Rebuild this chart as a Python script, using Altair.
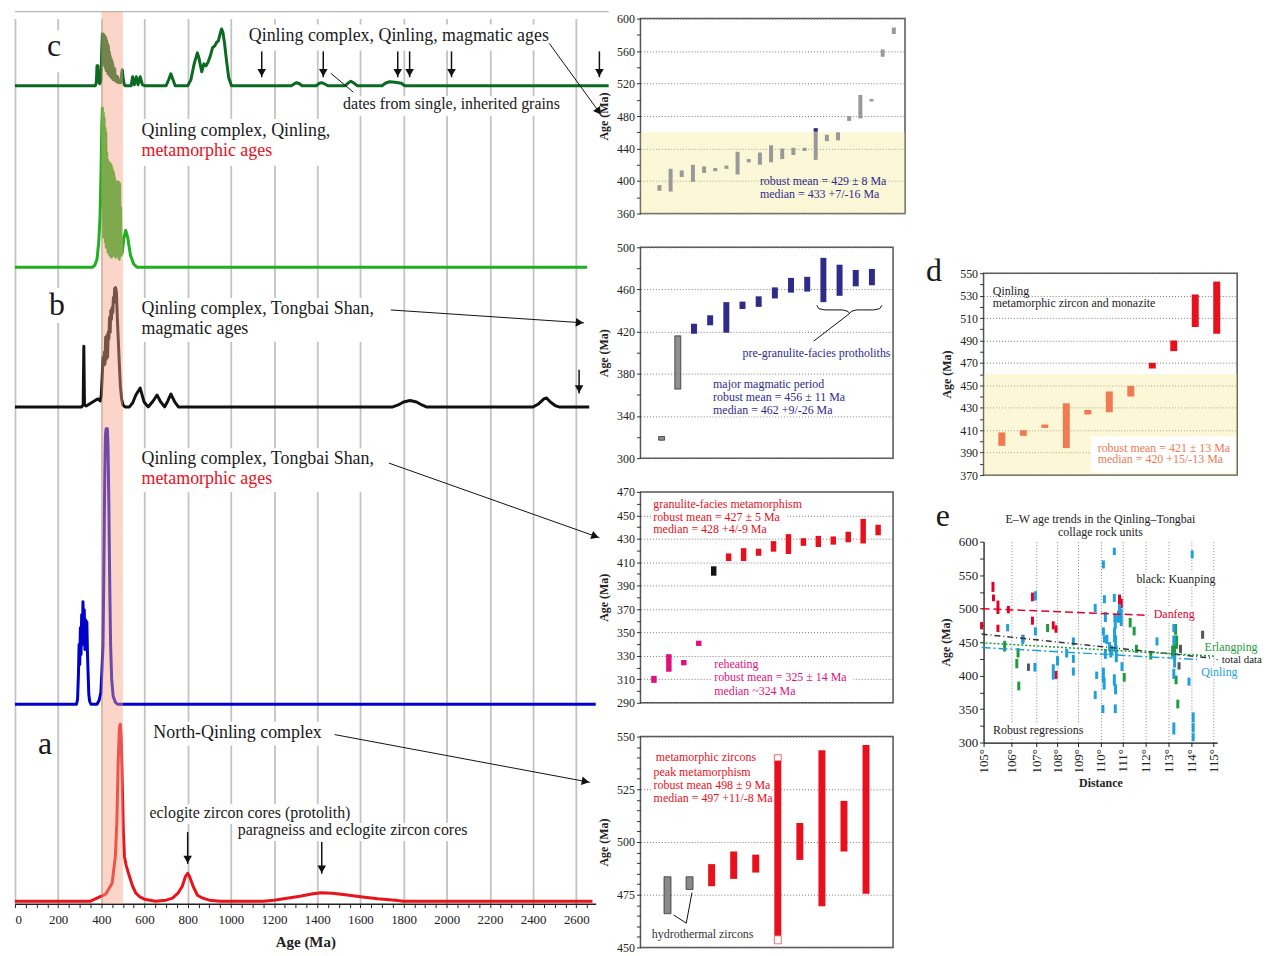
import math
import altair as alt
import pandas as pd

FONT = "Liberation Serif"
BLACK = "#1a1a1a"
RED = "#e8101c"
NAVY = "#2e2b8a"
PINK = "#e0127a"
ORANGE = "#f07a52"
GRAY = "#8f8f8f"

# ====================== LEFT PANEL (probability density curves) ======================
AGE_MAX = 2690
LEFT_W, LEFT_H, Y_MAX = 584, 890, 890
AGE_TICKS = list(range(0, 2651, 50))

# (age Ma, height above the curve's own baseline)
curve_c_mag = [(0, 0), (372, 0), (377, 3), (380, 20), (384, 20), (388, 4), (393, 2), (398, 5), (402, 35), (405, 52),
               (407, 30), (409, 52), (411, 25), (413, 50), (415, 20), (417, 50), (419, 18), (421, 48), (423, 15),
               (425, 45), (427, 15), (429, 42), (431, 12), (433, 40), (435, 12), (437, 34), (439, 10), (441, 30),
               (443, 10), (445, 27), (447, 8), (449, 25), (451, 8), (453, 22), (455, 6), (457, 18), (459, 6),
               (462, 17), (465, 5), (468, 10), (471, 4), (475, 9), (480, 3), (485, 5), (490, 3), (494, 12),
               (497, 16), (501, 8), (506, 1), (512, 0), (538, 0), (545, 9), (553, 1), (562, 9), (570, 1), (580, 9),
               (590, 1), (600, 0), (700, 0), (712, 6), (722, 12), (732, 6), (742, 0), (800, 0), (815, 6), (830, 22),
               (845, 33), (852, 28), (865, 14), (875, 22), (885, 20), (895, 24), (905, 30), (915, 38), (925, 40),
               (935, 44), (942, 45), (950, 52), (957, 57), (963, 54), (970, 44), (980, 25), (990, 8), (1003, 0),
               (1280, 0), (1295, 2), (1305, 3), (1318, 2), (1330, 0), (1395, 0), (1410, 2.5), (1420, 3), (1432, 2),
               (1450, 0), (1530, 0), (1545, 3), (1556, 4.5), (1568, 3), (1585, 0), (1700, 0), (1715, 2.5),
               (1735, 4), (1760, 3.5), (1790, 2.5), (1805, 0), (2750, 0)]
curve_c_meta = [(0, 0), (360, 0), (370, 2), (380, 8), (388, 25), (394, 50), (399, 100), (402, 140), (405, 160),
                (407, 60), (409, 155), (411, 30), (413, 150), (415, 40), (417, 140), (419, 25), (421, 135),
                (423, 20), (425, 115), (427, 30), (429, 108), (431, 15), (433, 104), (435, 25), (437, 105),
                (439, 12), (441, 103), (443, 20), (445, 103), (447, 10), (449, 100), (451, 22), (453, 97),
                (455, 15), (457, 95), (459, 12), (461, 90), (463, 20), (465, 86), (467, 10), (469, 85), (471, 18),
                (473, 85), (475, 12), (477, 86), (479, 20), (481, 85), (483, 8), (485, 84), (487, 15), (489, 60),
                (492, 12), (497, 15), (505, 30), (513, 37), (522, 30), (535, 12), (550, 3), (565, 0), (2650, 0)]
curve_b_mag = [(0, 0), (308, 0), (316, 2), (319, 61), (322, 2), (330, 1), (345, 3), (360, 5), (375, 7), (385, 8),
               (395, 6), (400, 12), (404, 30), (408, 50), (411, 42), (414, 55), (417, 43), (420, 70), (423, 48),
               (426, 72), (429, 50), (432, 75), (435, 68), (438, 90), (441, 75), (444, 97), (447, 88), (450, 100),
               (453, 95), (456, 110), (459, 105), (462, 119), (466, 120), (470, 115), (474, 90), (478, 70),
               (483, 45), (488, 22), (494, 8), (500, 2), (510, 0), (530, 0), (545, 4), (560, 12), (580, 19),
               (598, 5), (617, 0), (640, 6), (658, 12), (675, 5), (693, 0), (708, 6), (722, 13), (740, 5),
               (757, 0), (1750, 0), (1775, 2), (1800, 5), (1830, 6.5), (1860, 5), (1885, 2), (1905, 0),
               (2400, 0), (2425, 3), (2450, 8), (2462, 9), (2480, 5), (2505, 1), (2520, 0), (2660, 0)]
curve_b_meta = [(0, 0), (285, 0), (290, 5), (294, 30), (297, 60), (300, 40), (303, 77), (306, 50), (309, 90),
                (312, 60), (315, 103), (318, 70), (321, 95), (324, 55), (327, 85), (330, 60), (333, 83),
                (336, 50), (339, 30), (342, 10), (346, 3), (352, 0), (380, 0), (390, 4), (398, 12), (403, 35),
                (408, 60), (412, 140), (416, 230), (419, 270), (422, 277), (428, 277), (431, 260), (435, 200),
                (439, 120), (443, 60), (448, 25), (455, 8), (465, 2), (475, 0), (2690, 0)]
curve_a = [(0, 0), (350, 0), (380, 3), (420, 7), (450, 18), (465, 45), (472, 80), (478, 140), (484, 175),
           (488, 178), (492, 165), (497, 120), (502, 70), (507, 45), (515, 36), (530, 25), (545, 15), (560, 8),
           (580, 4), (600, 2), (650, 0), (700, 1), (730, 3), (755, 8), (775, 15), (790, 25), (800, 28),
           (810, 24), (825, 15), (845, 6), (870, 3), (900, 1), (950, 0), (1150, 0), (1200, 1), (1260, 3),
           (1320, 5), (1380, 7.5), (1420, 8.5), (1470, 8), (1530, 6.5), (1600, 4.5), (1680, 2.5), (1760, 1),
           (1800, 0), (2675, 0)]

# stacking offsets of the curves (layout)
CURVES = [
    (curve_c_mag, 822.5, "#0b6a22"),
    (curve_c_meta, 640, "#1fb01f"),
    (curve_b_mag, 499.5, "#111111"),
    (curve_b_meta, 200.5, "#0000cc"),
    (curve_a, 2.5, "#e8141c"),
]

left_texts = [
    ("Qinling complex, Qinling, magmatic ages", 1083, 872, BLACK, 18),
    ("dates from single, inherited grains", 1520, 804, BLACK, 16),
    ("Qinling complex, Qinling,", 586, 777, BLACK, 18),
    ("metamorphic ages", 586, 757, RED, 18),
    ("Qinling complex, Tongbai Shan,", 586, 598, BLACK, 18),
    ("magmatic ages", 586, 578, BLACK, 18),
    ("Qinling complex, Tongbai Shan,", 586, 447, BLACK, 18),
    ("metamorphic ages", 586, 427, RED, 18),
    ("North-Qinling complex", 641, 172, BLACK, 18),
    ("eclogite zircon cores (protolith)", 623, 91, BLACK, 16),
    ("paragneiss and eclogite zircon cores", 1032, 74, BLACK, 16),
]
left_letters = [("c", 181, 862), ("b", 195, 602), ("a", 139, 160)]
left_boxes = [(140, 225, 836, 878), (1070, 2480, 858, 884), (1505, 2520, 792, 812), (575, 1560, 742, 789),
              (150, 240, 584, 619), (575, 1720, 565, 609), (575, 1720, 414, 458), (95, 185, 142, 176),
              (630, 1440, 159, 183), (610, 1560, 80, 100), (1020, 2150, 63, 81)]
# (x1, h1, x2, h2, head, width)
left_arrows = [(a, 857, a, 831, True, 1.5) for a in [1143, 1428, 1773, 1828, 2022, 2707]] + [
    (1463, 835, 1567, 816, False, 1.0),
    (2475, 865, 2716, 793, True, 1.0),
    (1741, 597, 2636, 584, True, 1.0),
    (2613, 537, 2613, 513, True, 1.5),
    (1732, 443, 2707, 368, True, 1.0),
    (1481, 170, 2663, 122, True, 1.0),
    (800, 72, 800, 40, True, 1.5),
    (1421, 62, 1421, 30, True, 1.5),
]


def arrow_frames(arrows, sx, sy, back=4.5):
    lines, heads = [], []
    for x1, y1, x2, y2, head, w in arrows:
        lines.append(dict(x=x1, y=y1, x2=x2, y2=y2, w=w))
        if head:
            pdx, pdy = (x2 - x1) * sx, -(y2 - y1) * sy
            L = math.hypot(pdx, pdy)
            ux, uy = pdx / L, pdy / L
            heads.append(dict(x=x2 - ux * back / sx, y=y2 + uy * back / sy,
                              ang=math.degrees(math.atan2(-pdx, pdy)) % 360))
    return pd.DataFrame(lines), pd.DataFrame(heads)


xs_left = alt.Scale(domain=[0, AGE_MAX], nice=False, zero=False)
ys_left = alt.Scale(domain=[0, Y_MAX], nice=False, zero=False)
ax_left = alt.Axis(values=AGE_TICKS, format="d", labelExpr="datum.value % 200 === 0 ? datum.label : ''",
                   labelOverlap=False, grid=True, gridColor="#c3c3c3", gridWidth=1.8,
                   gridOpacity={"condition": {"test": "datum.value % 200 === 0", "value": 1}, "value": 0},
                   tickSize=4, tickColor="#222", domainColor="#222", domainWidth=1.5,
                   labelFont=FONT, labelFontSize=13, labelColor="#222", labelPadding=6,
                   title="Age (Ma)", titleFont=FONT, titleFontSize=15, titleFontWeight="bold",
                   titleColor="#222", titlePadding=8)


def LX(f="x"):
    return alt.X(f"{f}:Q", scale=xs_left, axis=ax_left)


def LY(f="y"):
    return alt.Y(f"{f}:Q", scale=ys_left, axis=None)


left_layers = []
left_layers.append(alt.Chart(pd.DataFrame([{"x": 0, "x2": 2750, "y": 897}])).mark_rule(
    color="#b5b5b5", strokeWidth=1.5).encode(x=LX(), x2=alt.X2("x2"), y=LY()))
left_layers.append(alt.Chart(pd.DataFrame(left_boxes, columns=["x", "x2", "y", "y2"])).mark_rect(
    color="white").encode(x=LX(), x2=alt.X2("x2"), y=LY(), y2=alt.Y2("y2")))
for pts, off, col in CURVES:
    df = pd.DataFrame({"x": [p[0] for p in pts], "y": [p[1] + off for p in pts], "o": list(range(len(pts)))})
    left_layers.append(alt.Chart(df).mark_line(color=col, strokeWidth=3, strokeJoin="round").encode(
        x=LX(), y=LY(), order="o:Q"))
left_layers.append(alt.Chart(pd.DataFrame([{"x": 400, "x2": 500, "y": 0, "y2": 897}])).mark_rect(
    color="#f4a285", opacity=0.45).encode(x=LX(), x2=alt.X2("x2"), y=LY(), y2=alt.Y2("y2")))
la_lines, la_heads = arrow_frames(left_arrows, LEFT_W / AGE_MAX, LEFT_H / Y_MAX)
left_layers.append(alt.Chart(la_lines).mark_rule(color="#111").encode(
    x=LX(), y=LY(), x2=alt.X2("x2"), y2=alt.Y2("y2"), strokeWidth=alt.StrokeWidth("w:Q", scale=None)))
left_layers.append(alt.Chart(la_heads).mark_point(shape="triangle-down", filled=True, size=75, color="#111",
                                                  opacity=1).encode(
    x=LX(), y=LY(), angle=alt.Angle("ang:Q", scale=None)))
left_layers.append(alt.Chart(pd.DataFrame(left_texts, columns=["t", "x", "y", "c", "s"])).mark_text(
    align="left", baseline="middle", font=FONT).encode(
    x=LX(), y=LY(), text="t:N", color=alt.Color("c:N", scale=None), size=alt.Size("s:Q", scale=None)))
left_layers.append(alt.Chart(pd.DataFrame(left_letters, columns=["t", "x", "y"])).mark_text(
    align="center", baseline="middle", font=FONT, fontSize=32, color=BLACK).encode(x=LX(), y=LY(), text="t:N"))

left = alt.layer(*left_layers).properties(width=LEFT_W, height=LEFT_H)


# ====================== MIDDLE / RIGHT PANELS (age bars) ======================
def y_axis(ydom, step, labstep, size=12, grid=True, domain=False):
    vals = list(range(ydom[0], ydom[1] + 1, step))
    test = f"(datum.value - {ydom[0]}) % {labstep} === 0"
    kw = dict(values=vals, format="d", labelExpr=f"{test} ? datum.label : ''", labelOverlap=False,
              tickSize=4, tickColor="#333", tickWidth=1, domain=domain,
              labelFont=FONT, labelFontSize=size, labelColor="#222", labelPadding=2,
              title="Age (Ma)", titleFont=FONT, titleFontSize=12, titleFontWeight="bold",
              titleColor="#222", titlePadding=6)
    if domain:
        kw.update(domainColor="#111", domainWidth=1.2)
    if grid:
        kw.update(grid=True, gridDash=[1, 2], gridColor="#7a7a7a", gridWidth=1,
                  gridOpacity={"condition": {"test": test, "value": 1}, "value": 0})
    else:
        kw.update(grid=False)
    return alt.Axis(**kw)


def text_boxes(texts, xdom, ydom, width, height, size=12, pad=2.0):
    """white backgrounds sized from the label strings"""
    ppx = width / (xdom[1] - xdom[0])
    ppy = height / (ydom[1] - ydom[0])
    rows = []
    for t, x, y, _c in texts:
        w = len(t) * size * 0.46 + 2 * pad
        rows.append(dict(x=x - pad / ppx, x2=min(x + (w - pad) / ppx, xdom[1]),
                         y=y - size * 0.55 / ppy, y2=y + size * 0.55 / ppy))
    return pd.DataFrame(rows)


def bar_panel(xdom, ydom, step, labstep, width, height, bar_sets, texts, band=None, extra=None,
              framed=True, boxes=True):
    xs = alt.Scale(domain=xdom, nice=False, zero=False)
    ys = alt.Scale(domain=ydom, nice=False, zero=False)
    ax = y_axis(ydom, step, labstep)

    def X(f="x"):
        return alt.X(f"{f}:Q", scale=xs, axis=None)

    def Y(f="y"):
        return alt.Y(f"{f}:Q", scale=ys, axis=ax)

    layers = []
    if band:
        df = pd.DataFrame([{"x": xdom[0], "x2": xdom[1], "y": band[0], "y2": band[1]}])
        layers.append(alt.Chart(df).mark_rect(color="#f8e890", opacity=0.36).encode(
            x=X(), x2=alt.X2("x2"), y=Y(), y2=alt.Y2("y2")))
    if boxes:
        layers.append(alt.Chart(text_boxes(texts, xdom, ydom, width, height)).mark_rect(color="white").encode(
            x=X(), x2=alt.X2("x2"), y=Y(), y2=alt.Y2("y2")))
    if extra:
        layers += extra(X, Y, "pre")
    for bars, col, bw, outline in bar_sets:
        df = pd.DataFrame(bars, columns=["x", "y", "y2"])
        if outline:
            mk = alt.Chart(df).mark_bar(size=bw, fill=col, stroke="#333333", strokeWidth=0.8)
        else:
            mk = alt.Chart(df).mark_rule(color=col, strokeWidth=bw, strokeCap="butt")
        layers.append(mk.encode(x=X(), y=Y(), y2=alt.Y2("y2")))
    if extra:
        layers += extra(X, Y, "post")
    df = pd.DataFrame(texts, columns=["t", "x", "y", "c"])
    layers.append(alt.Chart(df).mark_text(align="left", baseline="middle", font=FONT, fontSize=12).encode(
        x=X(), y=Y(), text="t:N", color=alt.Color("c:N", scale=None)))
    props = dict(width=width, height=height)
    if framed:
        props["view"] = alt.ViewBackground(stroke="#555555", strokeWidth=1.5)
    return layers, props


MID_W1, MID_W = 266, 254

# --- panel 1: Qinling magmatic
p1_gray = [(1, 388, 395), (2, 387, 415), (3, 405, 413), (4, 399, 420), (5, 410, 418), (6, 412, 416),
           (7, 415, 419), (8, 408, 436), (9, 423, 427), (10, 420, 435), (11, 423, 444), (12, 427, 440),
           (13, 432, 441), (14, 437, 441), (15, 426, 465), (16, 449, 457), (17, 450, 460), (18, 474, 480),
           (19, 477, 506), (20, 498, 501), (21, 553, 562), (22, 581, 589)]
p1_navy = [(15, 461, 465)]
p1_texts = [("robust mean = 429 ± 8 Ma", 10.0, 400, NAVY), ("median = 433 +7/-16 Ma", 10.0, 384, NAVY)]

l1, pr1 = bar_panel([-0.7, 23], [360, 600], 20, 40, MID_W1, 196,
                    [(p1_gray, "#999999", 4, False), (p1_navy, NAVY, 4, False)], p1_texts, band=(360, 460),
                    boxes=False)
p1 = alt.layer(*l1).properties(**pr1)

# --- panel 2: Tongbai magmatic
p2_gray = [(1, 317, 320.5), (2, 365.5, 416)]
p2_navy = [(3, 418, 427.5), (4, 426, 435.5), (5, 419, 448), (6, 441.5, 448.5), (7, 443.5, 453.5),
           (8, 451.5, 462), (9, 457, 471), (10, 458, 472), (11, 448, 490), (12, 454, 483.5), (13, 463, 478.5),
           (14, 464, 479.5)]
p2_texts = [("pre-granulite-facies protholiths", 6.0, 399.5, NAVY), ("major magmatic period", 4.18, 370.2, NAVY),
            ("robust mean = 456 ± 11 Ma", 4.18, 358.3, NAVY), ("median = 462 +9/-26 Ma", 4.18, 345.9, NAVY)]
p2_brace = [(10.59, 445), (10.72, 441.8), (11.1, 440.6), (12.2, 440.6), (12.52, 439.2), (12.62, 437.2),
            (12.72, 439.2), (13.04, 440.6), (14.1, 440.6), (14.48, 441.8), (14.62, 445)]
p2_leader = [(12.62, 437.2, 10.4, 411)]


def p2_extra(X, Y, when):
    if when != "post":
        return []
    bdf = pd.DataFrame({"x": [p[0] for p in p2_brace], "y": [p[1] for p in p2_brace],
                        "o": list(range(len(p2_brace)))})
    return [alt.Chart(bdf).mark_line(color="#111", strokeWidth=1).encode(x=X(), y=Y(), order="o:Q"),
            alt.Chart(pd.DataFrame(p2_leader, columns=["x", "y", "x2", "y2"])).mark_rule(
                color="#111", strokeWidth=1).encode(x=X(), y=Y(), x2=alt.X2("x2"), y2=alt.Y2("y2"))]


l2, pr2 = bar_panel([0, 15], [300, 500], 20, 40, MID_W, 212,
                    [(p2_gray, GRAY, 6, True), (p2_navy, NAVY, 6, False)], p2_texts, extra=p2_extra)
p2 = alt.layer(*l2).properties(**pr2)

# --- panel 3: Tongbai metamorphic
p3_pink = [(1, 307, 313), (2, 316.5, 331.5), (3, 322, 326.5), (4, 338.5, 343)]
p3_black = [(5, 398.5, 406.5)]
p3_red = [(6, 411, 417.5), (7, 411, 422), (8, 415.5, 421.5), (9, 419, 428), (10, 417, 434), (11, 424, 430.5),
          (12, 423, 432.5), (13, 425, 432), (14, 427, 436), (15, 426, 447), (16, 433, 442)]
p3_texts = [("granulite-facies metamorphism", 0.96, 460.1, RED), ("robust mean = 427 ± 5 Ma", 0.96, 448.8, RED),
            ("median = 428 +4/-9 Ma", 0.96, 438.3, RED), ("reheating", 5.03, 323, PINK),
            ("robust mean = 325 ± 14 Ma", 5.03, 312.3, PINK), ("median ~324 Ma", 5.03, 300.4, PINK)]
l3, pr3 = bar_panel([0.1, 17], [290, 470], 10, 20, MID_W, 212,
                    [(p3_pink, PINK, 5.5, False), (p3_black, "#111", 5.5, False), (p3_red, RED, 5.5, False)],
                    p3_texts)
p3 = alt.layer(*l3).properties(**pr3)

# --- panel 4: North-Qinling
p4_gray = [(1, 466, 483.5), (2, 477.5, 483.5)]
p4_red = [(3, 479, 489.5), (4, 482.5, 495.5), (5, 485.5, 494), (6, 455.5, 538.5), (7, 491.5, 509),
          (8, 469.5, 543.5), (9, 495.5, 519.5), (10, 475.5, 546)]
p4_breaks = [(6, 538.5, 541.4), (6, 451.7, 455.5)]
p4_texts = [("metamorphic zircons", 0.47, 540.5, RED), ("peak metamorphism", 0.37, 533.3, RED),
            ("robust mean 498 ± 9 Ma", 0.37, 527.2, RED), ("median = 497 +11/-8 Ma", 0.37, 520.9, RED),
            ("hydrothermal zircons", 0.29, 456.5, "#333")]
p4_vline = [(1.28, 465.4), (1.85, 461.5), (2.11, 476.0)]


def p4_extra(X, Y, when):
    if when != "post":
        return []
    df = pd.DataFrame({"x": [p[0] for p in p4_vline], "y": [p[1] for p in p4_vline], "o": [0, 1, 2]})
    bdf = pd.DataFrame(p4_breaks, columns=["x", "y", "y2"])
    return [alt.Chart(df).mark_line(color="#111", strokeWidth=1).encode(x=X(), y=Y(), order="o:Q"),
            alt.Chart(bdf).mark_bar(size=7, fill="white", stroke=RED, strokeWidth=0.6).encode(
                x=X(), y=Y(), y2=alt.Y2("y2"))]


l4, pr4 = bar_panel([0, 11], [450, 550], 5, 25, MID_W, 212,
                    [(p4_gray, "#8a8a8a", 7, True), (p4_red, RED, 7, False)], p4_texts, extra=p4_extra)
p4 = alt.layer(*l4).properties(**pr4)

# --- panel d
d_orange = [(1, 396, 408), (2, 405, 410), (3, 412, 415), (4, 394, 434), (5, 424, 428), (6, 426, 444.5),
            (7, 440, 449.5)]
d_red = [(8, 465, 470), (9, 480.5, 490), (10, 502, 531), (11, 496, 542.5)]
d_texts = [("Qinling", 0.58, 534.4, "#222"), ("metamorphic zircon and monazite", 0.58, 523.2, "#222"),
           ("robust mean = 421 ± 13 Ma", 5.46, 394.2, ORANGE), ("median = 420 +15/-13 Ma", 5.46, 383.9, ORANGE)]
d_box = [(5.15, 11.88, 372, 404.6)]


def d_extra(X, Y, when):
    if when != "pre":
        return []
    return [alt.Chart(pd.DataFrame(d_box, columns=["x", "x2", "y", "y2"])).mark_rect(color="white").encode(
        x=X(), x2=alt.X2("x2"), y=Y(), y2=alt.Y2("y2"))]


ld, prd = bar_panel([0.15, 11.95], [370, 550], 10, 20, 255, 203,
                    [(d_orange, ORANGE, 7, False), (d_red, RED, 7, False)], d_texts, band=(370, 460),
                    extra=d_extra, boxes=False)
ld.append(alt.Chart(pd.DataFrame({"t": ["d"]})).mark_text(align="left", baseline="middle", font=FONT,
                                                          fontSize=32, color=BLACK).encode(
    x=alt.value(-58), y=alt.value(-2), text="t:N"))
# tiny white mark that sets where this column starts (layout)
ld.append(alt.Chart(pd.DataFrame({"v": [0]})).mark_rule(color="white", strokeWidth=1).encode(
    x=alt.value(-90), x2=alt.value(-89), y=alt.value(208)))
pd_chart = alt.layer(*ld).properties(**prd)

# --- panel e: E-W trends
E_W, E_H = 235, 202
E_DOM = [0, 942]
E_TICK_KM = [0, 112, 213, 297, 382, 472, 560, 652, 746, 837, 925]
E_TICK_LAB = ["105°", "106°", "107°", "108°", "109°", "110°", "111°", "112°", "113°", "114°", "115°"]
e_red = [(-8, 469, 480), (38, 525, 540), (40, 511, 521), (58, 492, 512), (58, 465, 476), (100, 493, 504),
         (197, 511, 524), (197, 476, 488), (281, 469, 481), (292, 464, 475), (292, 395, 407), (513, 431, 441),
         (548, 500, 521), (555, 501, 515)]
e_green = [(85, 436, 452), (139, 427, 441), (134, 411, 425), (142, 378, 391), (258, 465, 477), (530, 480, 492),
           (591, 472, 486), (607, 460, 473), (616, 434, 446), (567, 391, 404), (674, 424, 435), (774, 461, 477),
           (778, 440, 460), (770, 425, 446), (776, 387, 400), (783, 351, 364), (762, 428, 445)]
e_gray = [(159, 450, 461), (181, 407, 418), (883, 455, 467), (794, 434, 446), (788, 409, 420)]
e_blue = [(97, 466, 477), (158, 447, 460), (209, 512, 526), (209, 460, 472), (207, 406, 419), (281, 394, 417),
          (298, 415, 429), (335, 427, 440), (362, 445, 457), (362, 419, 431), (362, 400, 412), (450, 495, 507),
          (450, 365, 377), (456, 395, 406), (483, 560, 572), (487, 508, 520), (483, 460, 472), (487, 449, 460),
          (483, 390, 412), (486, 379, 397), (481, 344, 356), (491, 480, 495), (497, 447, 461), (491, 425, 440),
          (508, 437, 450), (513, 427, 436), (527, 580, 591), (527, 510, 522), (531, 470, 490), (528, 450, 472),
          (532, 435, 460), (535, 420, 445), (527, 385, 402), (532, 372, 387), (531, 344, 357), (544, 479, 497),
          (548, 490, 507), (555, 474, 500), (558, 407, 420), (517, 432, 445), (699, 445, 457), (767, 465, 477),
          (767, 445, 460), (770, 412, 435), (767, 395, 410), (767, 312, 330), (828, 385, 397), (841, 575, 587),
          (845, 330, 345), (845, 315, 329), (845, 302, 314)]
E_RED, E_GREEN, E_BLUE, E_GRAY = "#e4002b", "#1e9b3c", "#1fa0de", "#555555"
e_regressions = [(-8, 500, 666, 490, E_RED, [8, 4]), (-8, 462, 922, 426, "#333333", [6, 3, 1, 3]),
                 (-8, 449, 931, 429, E_GREEN, [2, 2]), (-8, 442, 861, 424, E_BLUE, [9, 3, 2, 3])]
e_texts = [("Danfeng", 686, 492, E_RED), ("Erlangping", 891, 443, E_GREEN),
           ("Qinling", 877, 405, E_BLUE), ("black: Kuanping", 616, 544, "#222"),
           ("Robust regressions", 38, 319, "#222")]
e_texts_free = [("· total data", 934, 424, "#222")]
e_title = ["E–W age trends in the Qinling–Tongbai", "collage rock units"]

xs_e = alt.Scale(domain=E_DOM, nice=False, zero=False)
ys_e = alt.Scale(domain=[300, 600], nice=False, zero=False)
lab_arr = "[" + ",".join(f"'{s}'" for s in E_TICK_LAB) + "]"
km_arr = "[" + ",".join(str(v) for v in E_TICK_KM) + "]"
ax_ex = alt.Axis(values=E_TICK_KM, labelExpr=f"{lab_arr}[indexof({km_arr}, datum.value)]", labelAngle=270,
                 labelOverlap=False, grid=True, gridDash=[1, 2], gridColor="#888888", tickSize=4,
                 tickColor="#222", domainColor="#111", domainWidth=1.2, labelFont=FONT, labelFontSize=13,
                 labelColor="#222", labelPadding=2, title="Distance", titleFont=FONT, titleFontSize=12,
                 titleFontWeight="bold", titleColor="#222", titlePadding=4)
ax_ey = y_axis([300, 600], 25, 50, size=13, grid=False, domain=True)


def EX(f="x"):
    return alt.X(f"{f}:Q", scale=xs_e, axis=ax_ex)


def EY(f="y"):
    return alt.Y(f"{f}:Q", scale=ys_e, axis=ax_ey)


e_layers = []
e_layers.append(alt.Chart(text_boxes(e_texts, [E_DOM[0], 2000], [300, 600], E_W * 2000 / 942, E_H)).mark_rect(
    color="white").encode(x=EX(), x2=alt.X2("x2"), y=EY(), y2=alt.Y2("y2")))
for segs, col in [(e_red, E_RED), (e_gray, E_GRAY), (e_green, E_GREEN), (e_blue, E_BLUE)]:
    e_layers.append(alt.Chart(pd.DataFrame(segs, columns=["x", "y", "y2"])).mark_rule(
        color=col, strokeWidth=3, strokeCap="butt").encode(x=EX(), y=EY(), y2=alt.Y2("y2")))
for x1, y1, x2, y2, col, dash in e_regressions:
    e_layers.append(alt.Chart(pd.DataFrame([{"x": x1, "y": y1, "x2": x2, "y2": y2}])).mark_rule(
        color=col, strokeWidth=1.5, strokeDash=dash).encode(x=EX(), y=EY(), x2=alt.X2("x2"), y2=alt.Y2("y2")))
e_layers.append(alt.Chart(pd.DataFrame(e_texts, columns=["t", "x", "y", "c"])).mark_text(
    align="left", baseline="middle", font=FONT, fontSize=12).encode(
    x=EX(), y=EY(), text="t:N", color=alt.Color("c:N", scale=None)))
e_layers.append(alt.Chart(pd.DataFrame(e_texts_free, columns=["t", "x", "y", "c"])).mark_text(
    align="left", baseline="middle", font=FONT, fontSize=11).encode(
    x=EX(), y=EY(), text="t:N", color=alt.Color("c:N", scale=None)))
e_layers.append(alt.Chart(pd.DataFrame({"t": e_title, "py": [-23, -10]})).mark_text(
    align="center", baseline="middle", font=FONT, fontSize=12, color="#222").encode(
    x=alt.value(E_W / 2), y=alt.Y("py:Q", scale=None), text="t:N"))
e_layers.append(alt.Chart(pd.DataFrame({"t": ["e"]})).mark_text(align="left", baseline="middle", font=FONT,
                                                                fontSize=32, color=BLACK).encode(
    x=alt.value(-48), y=alt.value(-26), text="t:N"))
pe_chart = alt.layer(*e_layers).properties(width=E_W, height=E_H)

spacer = alt.Chart(pd.DataFrame({"v": [0]})).mark_rule(color="white", strokeWidth=1).encode(
    x=alt.value(0), y=alt.value(0), y2=alt.value(2)).properties(width=240, height=219)

mid = alt.vconcat(p1, p2, p3, p4, spacing=20)
right = alt.vconcat(spacer, pd_chart, pe_chart, spacing=18)

chart = alt.hconcat(left, mid, right, spacing=-14).properties(
    padding={"left": 5, "top": 0, "right": 0, "bottom": 0}
).configure(font=FONT).configure_view(stroke=None)

chart.save("out.html", embed_options={"renderer": "svg", "actions": False})
